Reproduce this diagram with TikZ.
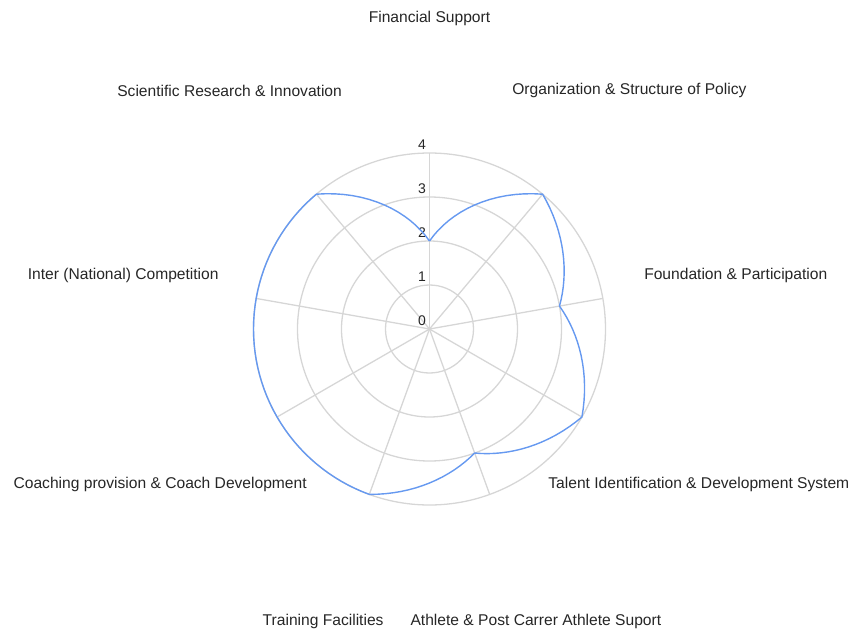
\documentclass[tikz,border=0pt]{standalone}
\usepackage{fontspec}
\setmainfont{Liberation Sans}
\usetikzlibrary{calc}
\definecolor{gridgray}{RGB}{214,214,214}
\definecolor{seriesblue}{RGB}{102,153,240}
\tikzstyle{gridline}=[gridgray, line width=1.3pt]
\tikzstyle{series}=[seriesblue, line width=1.4pt, line join=round]
\tikzstyle{catlabel}=[font=\fontsize{15.6}{18}\selectfont, text=black!85, inner sep=0pt]
\tikzstyle{ticklabel}=[font=\fontsize{14}{16}\selectfont, text=black!85, inner sep=0pt, anchor=south east]
\newcommand{\drawRadarGrid}[2]{

\pgfmathtruncatemacro{\n}{#1}
\pgfmathsetmacro{\ringr}{#2}
\pgfmathsetmacro{\sector}{360/\n}
\foreach \k in {1,2,3,4} {
  \draw[gridline] (0,0) circle ({\k*\ringr pt});
}
    \foreach \i in {1,...,\n} {
      \draw[gridline] (0,0) -- ({90-\sector*(\i-1)}:4*\ringr);
    }

}
\newcommand{\drawticks}{
  \foreach \k in {0,...,4} {
  \node[ticklabel] (tick\k) at (-3.5,\k*\ringr+3) {\k};
}
}
\newcommand{\drawcategory}[3]{
\node[catlabel] (#1) at ({90-\sector*#2}:311) {#3};
}

\begin{document}
\begin{tikzpicture}[x=1pt,y=1pt]
	\useasboundingbox (-429.5,-301) rectangle (427.5,329);
	\drawRadarGrid{9}{44}
	\drawticks
	% score from one axis to the next, clockwise from the top
	\draw[series] (90:2*\ringr)
	  \foreach \r/\s [count=\i from 0] in {2/4,4/3,3/4,4/3,3/4,4/4,4/4,4/4,4/2} {
	    -- plot[domain=0:1, samples=17, variable=\t] ({90-\sector*(\i+\t)}:{(\r+(\s-\r)*\t)*\ringr})
	  };
	\drawcategory{financial}{0}{Financial Support}
	\drawcategory{organization}{1}{Organization \& Structure of Policy}
	\drawcategory{foundation}{2}{Foundation \& Participation}
	\drawcategory{talent}{3}{Talent Identification \& Development System}
	\drawcategory{athlete}{4}{Athlete \& Post Carrer Athlete Suport}
	\drawcategory{training}{5}{Training Facilities}
	\drawcategory{coaching}{6}{Coaching provision \& Coach Development}
	\drawcategory{inter}{7}{Inter (National) Competition}
	\drawcategory{scientific}{8}{Scientific Research \& Innovation}
\end{tikzpicture}
\end{document}
